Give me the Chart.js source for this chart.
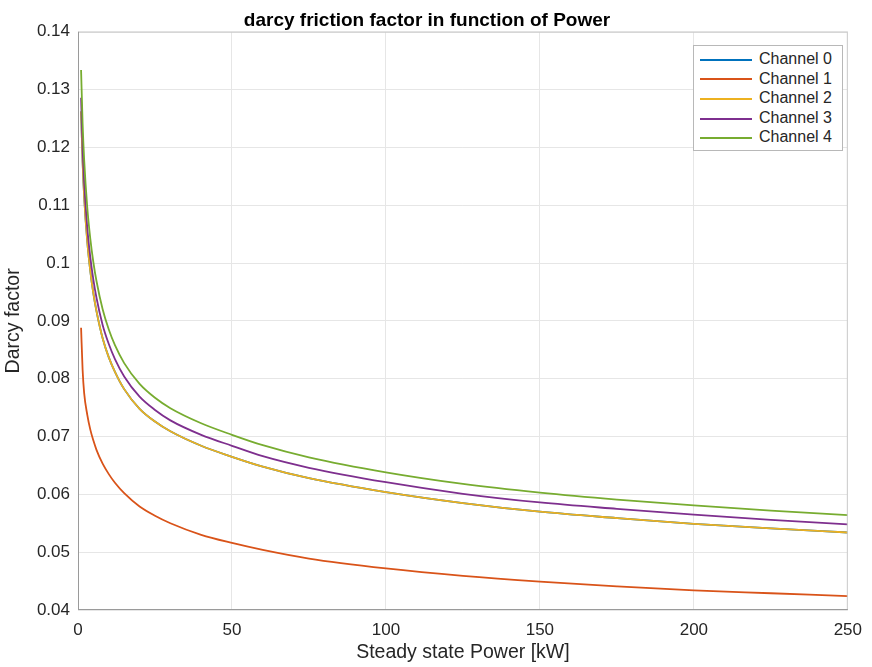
<!DOCTYPE html>
<html lang="en">
<head>
    <meta charset="UTF-8">
    <title>darcy friction factor</title>
    <style>
        body{ margin:0; background:#fff; }
        #wrap{ position:relative; width:872px; height:667px; }
        #legend{
            position:absolute; left:693px; top:45px;
            border:1px solid #b8b8b8; background:#fff;
            padding:3px 10px 3px 6px;
            font-family:"Liberation Sans", Arial, sans-serif; font-size:16px; color:#262626;
        }
        #legend div{ height:19.6px; line-height:19.6px; white-space:nowrap; }
        #legend span{ display:inline-block; width:52px; height:2px; vertical-align:middle; margin-right:7px; }
    </style>
</head>
<body>
    <div id="wrap">
        <canvas id="myc"></canvas>
        <div id="legend"></div>
    </div>

    <script src="https://cdn.jsdelivr.net/npm/chart.js"></script>
    <script>
        // power values [kW]
        var power = [1, 1.5, 2, 3, 4, 5, 6, 8, 10, 12, 15, 20, 25, 30, 40, 50, 60, 75, 100, 125, 150, 175, 200, 225, 250];

        // darcy factor, one list per channel
        var ch0 = [0.1262, 0.1174, 0.1115, 0.1038, 0.0986, 0.0947, 0.0917, 0.0870, 0.0837, 0.0812, 0.0782, 0.0748, 0.0726, 0.0709, 0.0684, 0.0665, 0.0648, 0.0628, 0.0604, 0.0585, 0.0570, 0.0559, 0.0549, 0.0541, 0.0534];
        var ch1 = [0.0888, 0.0815, 0.0775, 0.0738, 0.0712, 0.0693, 0.0677, 0.0653, 0.0635, 0.0620, 0.0602, 0.0579, 0.0563, 0.0550, 0.0530, 0.0516, 0.0504, 0.0489, 0.0472, 0.0459, 0.0449, 0.0441, 0.0434, 0.0429, 0.0424];
        var ch2 = [0.1262, 0.1174, 0.1115, 0.1038, 0.0986, 0.0947, 0.0917, 0.0870, 0.0837, 0.0812, 0.0782, 0.0748, 0.0726, 0.0709, 0.0684, 0.0665, 0.0648, 0.0628, 0.0604, 0.0585, 0.0570, 0.0559, 0.0549, 0.0541, 0.0534];
        var ch3 = [0.1286, 0.1198, 0.1139, 0.1062, 0.1010, 0.0971, 0.0940, 0.0893, 0.0860, 0.0834, 0.0804, 0.0769, 0.0746, 0.0728, 0.0703, 0.0684, 0.0666, 0.0646, 0.0621, 0.0601, 0.0586, 0.0575, 0.0565, 0.0556, 0.0548];
        var ch4 = [0.1334, 0.1241, 0.1179, 0.1097, 0.1042, 0.1001, 0.0969, 0.0920, 0.0885, 0.0858, 0.0827, 0.0791, 0.0767, 0.0749, 0.0723, 0.0703, 0.0685, 0.0664, 0.0638, 0.0618, 0.0603, 0.0591, 0.0581, 0.0572, 0.0564];

        var names = ['Channel 0', 'Channel 1', 'Channel 2', 'Channel 3', 'Channel 4'];
        var colors = ['#0072BD', '#D95319', '#EDB120', '#7E2F8E', '#77AC30'];

        var xTicks = [0, 50, 100, 150, 200, 250];
        var yTicks = [0.04, 0.05, 0.06, 0.07, 0.08, 0.09, 0.1, 0.11, 0.12, 0.13, 0.14];

        var series = [ch0, ch1, ch2, ch3, ch4];
        var datasets = series.map(function (s, i) {
            return {
                label: names[i],
                data: s.map(function (v, k) { return { x: power[k], y: v }; }),
                borderColor: colors[i],
                backgroundColor: colors[i],
                borderWidth: 1.8,
                pointRadius: 0,
                fill: false,
                order: -i,  // later channels on top, as in matlab
                cubicInterpolationMode: 'monotone'
            };
        });

        var font = "'Liberation Sans', Arial, sans-serif";
        var gridCol = '#e6e6e6';

        // box round the plot area, like matlab's axes box
        var boxPlugin = {
            id: 'box',
            afterDraw: function (chart) {
                var a = chart.chartArea, c = chart.ctx;
                c.save();
                c.strokeStyle = '#cccccc';
                c.lineWidth = 1;
                c.strokeRect(a.left + 0.5, a.top + 0.5, a.right - a.left - 1, a.bottom - a.top - 1);
                c.strokeStyle = '#9a9a9a';
                c.beginPath();
                c.moveTo(a.left + 0.5, a.top); c.lineTo(a.left + 0.5, a.bottom);
                c.moveTo(a.left, a.bottom - 0.5); c.lineTo(a.right, a.bottom - 0.5);
                c.stroke();
                c.restore();
            }
        };

        var ctx = document.getElementById('myc').getContext('2d');
        var myChart = new Chart(ctx, {
            type: 'line',
            data: { datasets: datasets },
            plugins: [boxPlugin],
            options: {
                responsive: true,
                maintainAspectRatio: false,
                animation: false,
                layout: { padding: { left: 0, right: 18, top: 0, bottom: 0 } },
                plugins: {
                    legend: { display: false },
                    tooltip: { enabled: false },
                    title: {
                        display: true,
                        text: 'darcy friction factor in function of Power',
                        color: '#000',
                        font: { family: font, size: 19, weight: 'bold' },
                        padding: { top: 9, bottom: 0 }
                    }
                },
                scales: {
                    x: {
                        type: 'linear',
                        min: 0, max: 250,
                        afterBuildTicks: function (axis) { axis.ticks = xTicks.map(function (v) { return { value: v }; }); },
                        afterFit: function (scale) { scale.height = 57; },
                        grid: { color: gridCol, drawTicks: false },
                        border: { display: false },
                        ticks: { color: '#262626', padding: 10, maxRotation: 0, font: { family: font, size: 17 } },
                        title: {
                            display: true, text: 'Steady state Power [kW]', color: '#262626',
                            font: { family: font, size: 19.5 }, padding: { top: 0, bottom: 3 }
                        }
                    },
                    y: {
                        min: 0.04, max: 0.14,
                        afterBuildTicks: function (axis) { axis.ticks = yTicks.map(function (v) { return { value: v }; }); },
                        afterFit: function (scale) { scale.width = 78; },
                        grid: { color: gridCol, drawTicks: false },
                        border: { display: false },
                        ticks: {
                            color: '#262626', padding: 8, font: { family: font, size: 17 },
                            callback: function (v) { return String(Number(v.toFixed(2))); }
                        },
                        title: {
                            display: true, text: 'Darcy factor', color: '#262626',
                            font: { family: font, size: 19.5 }, padding: { top: 2, bottom: 0 }
                        }
                    }
                }
            }
        });

        // legend box inside the axes, top right
        var leg = document.getElementById('legend');
        myChart.data.datasets.forEach(function (d) {
            var row = document.createElement('div');
            var sw = document.createElement('span');
            sw.style.background = d.borderColor;
            row.appendChild(sw);
            row.appendChild(document.createTextNode(d.label));
            leg.appendChild(row);
        });
    </script>
</body>
</html>
